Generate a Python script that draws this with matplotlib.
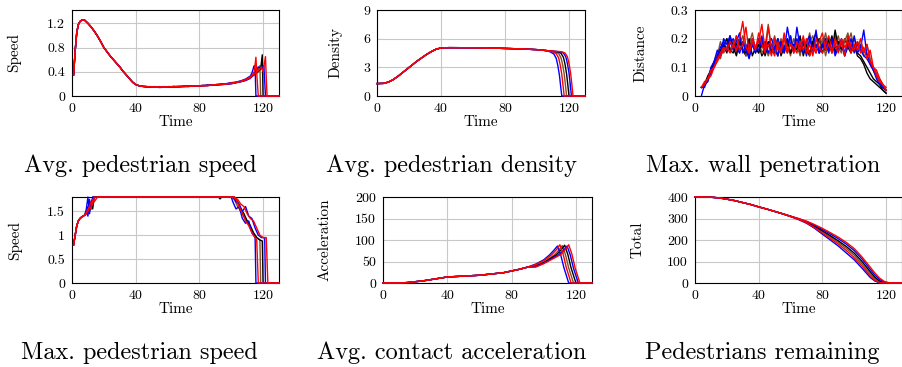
import matplotlib
matplotlib.use("Agg")
import matplotlib.pyplot as plt

plt.rcParams['font.family'] = ['cmr10', 'DejaVu Serif']
plt.rcParams['mathtext.fontset'] = 'cm'
plt.rcParams['axes.formatter.use_mathtext'] = True

# ---------------- runs (colour per simulation run) ----------------
run_colors = ['#80502a', '#000000', '#0000ff', '#0000ff', '#ff0000', '#ff0000']
wall_extra_colors = ['#80502a', '#000000']

titles = ['Avg. pedestrian speed', 'Avg. pedestrian density', 'Max. wall penetration',
          'Max. pedestrian speed', 'Avg. contact acceleration', 'Pedestrians remaining']
ylabels = ['Speed', 'Density', 'Distance', 'Speed', 'Acceleration', 'Total']
x_ticks = [0, 40, 80, 120]
x_ticklabels = ['0', '40', '80', '120']
y_ticks = [[0, 0.4, 0.8, 1.2], [0, 3, 6, 9], [0, 0.1, 0.2, 0.3],
           [0, 0.5, 1, 1.5], [0, 50, 100, 150, 200], [0, 100, 200, 300, 400]]
y_ticklabels = [['0', '0.4', '0.8', '1.2'], ['0', '3', '6', '9'], ['0', '0.1', '0.2', '0.3'],
                ['0', '0.5', '1', '1.5'], ['0', '50', '100', '150', '200'],
                ['0', '100', '200', '300', '400']]
y_max = [1.42, 9, 0.3, 1.8, 200, 400]

# ---------------- panel 1: average speed ----------------
speed_head_t = [1, 2, 3, 4, 5, 6, 7, 8, 10, 12, 14, 16, 18, 20, 22, 24, 26, 28, 30,
                32, 34, 36, 38, 40, 42, 44]
speed_head_v = [0.35, 0.75, 1.05, 1.18, 1.23, 1.25, 1.26, 1.25, 1.2, 1.14, 1.07, 0.99,
                0.9, 0.8, 0.73, 0.66, 0.6, 0.54, 0.48, 0.41, 0.35, 0.29, 0.23, 0.19,
                0.17, 0.16]
speed_mid_t = [46, 49, 52, 55, 58, 61, 64, 67, 70, 73, 76, 79, 82, 85, 88, 91, 94, 97,
               100, 103, 106, 109, 112]
speed_mid = [
    [0.16, 0.15, 0.155, 0.145, 0.15, 0.155, 0.15, 0.16, 0.155, 0.165, 0.16, 0.17, 0.165,
     0.18, 0.175, 0.19, 0.185, 0.2, 0.21, 0.225, 0.235, 0.27, 0.3],
    [0.155, 0.15, 0.145, 0.15, 0.155, 0.145, 0.155, 0.15, 0.16, 0.155, 0.165, 0.165, 0.175,
     0.17, 0.185, 0.18, 0.195, 0.195, 0.215, 0.22, 0.245, 0.26, 0.31],
    [0.15, 0.155, 0.15, 0.14, 0.145, 0.15, 0.16, 0.155, 0.16, 0.16, 0.17, 0.165, 0.17,
     0.18, 0.18, 0.19, 0.2, 0.205, 0.22, 0.23, 0.25, 0.28, 0.33],
    [0.155, 0.145, 0.15, 0.155, 0.15, 0.155, 0.145, 0.155, 0.16, 0.165, 0.16, 0.17, 0.17,
     0.175, 0.18, 0.185, 0.19, 0.195, 0.2, 0.22, 0.235, 0.255, 0.29],
    [0.16, 0.15, 0.15, 0.15, 0.145, 0.155, 0.15, 0.16, 0.155, 0.16, 0.165, 0.165, 0.175,
     0.17, 0.18, 0.19, 0.19, 0.2, 0.215, 0.225, 0.245, 0.27, 0.32],
    [0.15, 0.155, 0.145, 0.15, 0.15, 0.15, 0.155, 0.15, 0.155, 0.16, 0.165, 0.17, 0.165,
     0.175, 0.18, 0.185, 0.195, 0.2, 0.205, 0.22, 0.24, 0.265, 0.3],
]
speed_tail_t = [
    [113, 114.5, 116, 117, 118, 118.5, 130],
    [113, 115, 117, 118.5, 119.5, 120, 130],
    [113, 114, 114.5, 115, 115.5, 130],
    [113, 115, 117, 119, 120.5, 121.5, 130],
    [113, 114.5, 115.5, 116.2, 117, 130],
    [113, 115, 117, 119, 120, 121.5, 122, 122.5, 130],
]
speed_tail_v = [
    [0.32, 0.38, 0.42, 0.45, 0.5, 0, 0],
    [0.32, 0.36, 0.4, 0.45, 0.68, 0, 0],
    [0.38, 0.47, 0.5, 0.45, 0, 0],
    [0.33, 0.4, 0.48, 0.45, 0.5, 0, 0],
    [0.34, 0.4, 0.64, 0.3, 0, 0],
    [0.33, 0.37, 0.42, 0.48, 0.4, 0.65, 0.3, 0, 0],
]

# ---------------- panel 2: average density ----------------
density_head_t = [0, 4, 7, 10, 13, 16, 19, 22, 25, 28, 31, 34, 37, 40, 45, 60, 75, 90, 100, 106]
density_head_v = [1.3, 1.32, 1.45, 1.7, 2.05, 2.45, 2.85, 3.25, 3.65, 4.0, 4.35, 4.65, 4.9,
                  5.03, 5.06, 5.05, 5.0, 4.93, 4.85, 4.75]
density_tail_t = [
    [111.5, 113.5, 115, 116, 117, 117.8, 118.5, 130],
    [113, 115, 116.5, 117.5, 118.5, 119.3, 120, 130],
    [108.5, 110.5, 112, 113, 114, 114.8, 115.5, 130],
    [114.5, 116.5, 118, 119, 120, 120.8, 121.5, 130],
    [110, 112, 113.5, 114.5, 115.5, 116.3, 117, 130],
    [115.5, 117.5, 119, 120, 121, 121.8, 122.5, 130],
]
density_tail_v = [
    [4.6, 4.45, 4.0, 3.3, 2.3, 1.1, 0, 0],
    [4.62, 4.47, 4.05, 3.35, 2.3, 1.1, 0, 0],
    [4.6, 4.4, 3.95, 3.2, 2.2, 1.0, 0, 0],
    [4.62, 4.5, 4.1, 3.4, 2.4, 1.2, 0, 0],
    [4.62, 4.42, 4.0, 3.25, 2.25, 1.05, 0, 0],
    [4.63, 4.5, 4.1, 3.4, 2.4, 1.2, 0, 0],
]

# ---------------- panel 3: max wall penetration ----------------
wall_t = list(range(4, 122, 2))
wall_extra_runs = [
    [0.03, 0.04, 0.05, 0.08, 0.12, 0.15, 0.13, 0.18, 0.2, 0.16,
     0.19, 0.15, 0.18, 0.21, 0.16, 0.14, 0.19, 0.17, 0.15, 0.2,
     0.18, 0.14, 0.17, 0.21, 0.16, 0.19, 0.15, 0.18, 0.14, 0.2,
     0.17, 0.15, 0.2, 0.16, 0.19, 0.21, 0.15, 0.2, 0.17, 0.22,
     0.16, 0.2, 0.18, 0.21, 0.16, 0.19, 0.22, 0.17, 0.2, 0.16,
     0.18, 0.14, 0.15, 0.11, 0.09, 0.07, 0.05, 0.03, 0.02],
    [0.03, 0.04, 0.06, 0.09, 0.1, 0.13, 0.15, 0.17, 0.2, 0.16,
     0.15, 0.18, 0.2, 0.16, 0.14, 0.17, 0.19, 0.15, 0.18, 0.14,
     0.16, 0.19, 0.15, 0.17, 0.14, 0.18, 0.16, 0.2, 0.15, 0.17,
     0.19, 0.15, 0.18, 0.16, 0.14, 0.19, 0.17, 0.2, 0.15, 0.18,
     0.17, 0.21, 0.15, 0.19, 0.16, 0.2, 0.17, 0.15, 0.18, 0.14,
     0.13, 0.11, 0.08, 0.06, 0.05, 0.04, 0.03, 0.02, 0.01],
]
wall_runs = [
    [0.03, 0.04, 0.06, 0.08, 0.11, 0.14, 0.19, 0.15, 0.17, 0.2,
     0.16, 0.21, 0.15, 0.19, 0.14, 0.18, 0.22, 0.16, 0.2, 0.15,
     0.17, 0.25, 0.16, 0.19, 0.14, 0.2, 0.17, 0.15, 0.21, 0.16,
     0.18, 0.14, 0.19, 0.17, 0.22, 0.15, 0.18, 0.16, 0.2, 0.14,
     0.19, 0.16, 0.21, 0.17, 0.15, 0.2, 0.18, 0.22, 0.16, 0.19,
     0.17, 0.15, 0.18, 0.13, 0.1, 0.08, 0.06, 0.04, 0.02],
    [0.03, 0.04, 0.07, 0.09, 0.12, 0.13, 0.16, 0.18, 0.15, 0.21,
     0.17, 0.14, 0.19, 0.16, 0.15, 0.2, 0.14, 0.17, 0.15, 0.19,
     0.14, 0.18, 0.16, 0.15, 0.2, 0.14, 0.17, 0.19, 0.15, 0.18,
     0.16, 0.21, 0.14, 0.18, 0.15, 0.19, 0.22, 0.15, 0.18, 0.16,
     0.2, 0.15, 0.23, 0.17, 0.19, 0.14, 0.2, 0.16, 0.18, 0.15,
     0.14, 0.12, 0.1, 0.08, 0.06, 0.05, 0.04, 0.02, 0.01],
    [0.0, 0.04, 0.05, 0.1, 0.12, 0.16, 0.14, 0.2, 0.18, 0.21,
     0.16, 0.19, 0.22, 0.15, 0.18, 0.14, 0.2, 0.17, 0.16, 0.21,
     0.15, 0.18, 0.2, 0.17, 0.14, 0.19, 0.16, 0.18, 0.21, 0.15,
     0.24, 0.17, 0.19, 0.14, 0.2, 0.16, 0.23, 0.15, 0.18, 0.2,
     0.16, 0.19, 0.14, 0.17, 0.2, 0.15, 0.18, 0.16, 0.21, 0.15,
     0.17, 0.23, 0.14, 0.12, 0.09, 0.06, 0.04, 0.03, 0.02],
    [0.03, 0.03, 0.06, 0.08, 0.11, 0.14, 0.17, 0.19, 0.16, 0.18,
     0.2, 0.17, 0.15, 0.19, 0.16, 0.13, 0.18, 0.15, 0.2, 0.17,
     0.19, 0.15, 0.18, 0.16, 0.2, 0.17, 0.15, 0.24, 0.18, 0.16,
     0.2, 0.17, 0.15, 0.19, 0.21, 0.16, 0.18, 0.15, 0.17, 0.19,
     0.15, 0.2, 0.17, 0.16, 0.19, 0.14, 0.17, 0.2, 0.15, 0.18,
     0.16, 0.14, 0.13, 0.11, 0.09, 0.07, 0.05, 0.03, 0.02],
    [0.03, 0.04, 0.06, 0.07, 0.1, 0.12, 0.14, 0.16, 0.17, 0.15,
     0.18, 0.16, 0.2, 0.26, 0.17, 0.15, 0.19, 0.16, 0.22, 0.18,
     0.15, 0.24, 0.17, 0.14, 0.19, 0.16, 0.2, 0.15, 0.18, 0.17,
     0.15, 0.19, 0.16, 0.2, 0.14, 0.17, 0.15, 0.19, 0.22, 0.16,
     0.18, 0.15, 0.2, 0.17, 0.19, 0.14, 0.21, 0.17, 0.16, 0.19,
     0.15, 0.17, 0.13, 0.16, 0.1, 0.09, 0.06, 0.04, 0.03],
    [0.03, 0.05, 0.06, 0.09, 0.1, 0.13, 0.15, 0.17, 0.16, 0.19,
     0.17, 0.21, 0.16, 0.18, 0.24, 0.15, 0.2, 0.17, 0.19, 0.25,
     0.16, 0.18, 0.14, 0.2, 0.17, 0.15, 0.22, 0.16, 0.18, 0.15,
     0.19, 0.16, 0.21, 0.15, 0.18, 0.14, 0.2, 0.17, 0.15, 0.18,
     0.21, 0.16, 0.18, 0.15, 0.2, 0.17, 0.19, 0.15, 0.18, 0.16,
     0.2, 0.15, 0.18, 0.12, 0.1, 0.07, 0.05, 0.04, 0.02],
]

# ---------------- panel 4: max speed ----------------
maxspeed_head_t = [1, 2, 3, 4, 5, 6, 7]
maxspeed_head_v = [0.8, 1.0, 1.2, 1.3, 1.35, 1.38, 1.4]
maxspeed_t = [
    [8, 9, 10, 11, 12, 13, 14, 15, 20, 60, 100, 102, 104, 106, 108, 110, 112, 114, 116, 118, 118.5, 130],
    [8, 9, 10, 11, 12, 13, 14, 15, 20, 60, 92, 93, 94, 100, 102, 104, 106, 108, 110, 112, 114, 116, 118, 119.5, 120, 130],
    [8, 9, 10, 11, 12, 14, 16, 20, 60, 100, 101, 103, 105, 107, 109, 111, 113, 115, 115.5, 130],
    [8, 9, 10, 11, 12, 13, 15, 20, 60, 101, 103, 105, 107, 109, 111, 113, 115, 117, 119, 121, 121.5, 130],
    [8, 9, 10, 11, 12, 13, 14, 16, 20, 60, 101, 103, 105, 107, 109, 111, 113, 115, 116, 117, 130],
    [8, 9, 10, 11, 12, 13, 14, 16, 20, 60, 102, 104, 106, 108, 110, 112, 114, 116, 118, 120, 122, 123, 130],
]
maxspeed_v = [
    [1.42, 1.5, 1.45, 1.7, 1.6, 1.8, 1.8, 1.8, 1.8, 1.8, 1.8, 1.75, 1.6, 1.5, 1.4, 1.3, 1.15, 1.05, 0.95, 0.9, 0, 0],
    [1.42, 1.45, 1.6, 1.5, 1.65, 1.55, 1.8, 1.8, 1.8, 1.8, 1.8, 1.76, 1.8, 1.8, 1.8, 1.7, 1.55, 1.45, 1.3, 1.2, 1.05, 0.95, 0.9, 0.88, 0, 0],
    [1.42, 1.55, 1.8, 1.45, 1.7, 1.8, 1.8, 1.8, 1.8, 1.8, 1.7, 1.55, 1.6, 1.35, 1.25, 1.3, 1.05, 0.95, 0, 0],
    [1.42, 1.5, 1.4, 1.75, 1.55, 1.8, 1.8, 1.8, 1.8, 1.8, 1.7, 1.65, 1.5, 1.6, 1.4, 1.35, 1.15, 1.0, 0.95, 0.95, 0, 0],
    [1.42, 1.45, 1.5, 1.6, 1.55, 1.75, 1.7, 1.8, 1.8, 1.8, 1.8, 1.75, 1.6, 1.45, 1.3, 1.2, 1.05, 0.95, 0.9, 0, 0],
    [1.42, 1.48, 1.55, 1.6, 1.7, 1.65, 1.8, 1.8, 1.8, 1.8, 1.8, 1.75, 1.65, 1.6, 1.45, 1.35, 1.3, 1.15, 1.0, 0.95, 0.95, 0, 0],
]

# ---------------- panel 5: contact acceleration ----------------
accel_head_t = [0, 10, 15, 20, 25, 30, 35, 40, 45, 50, 55, 60, 65, 70, 75, 80, 85, 90]
accel_head_v = [0, 0, 1, 3, 5, 8, 11, 14, 15, 16, 17, 18, 20, 22, 24, 28, 32, 37]
accel_tail_t = [
    [95, 100, 106.5, 109.5, 111.5, 113.5, 115.5, 118.5, 130],
    [95, 100, 108, 111, 113, 115, 117, 120, 130],
    [95, 100, 103.5, 106.5, 108.5, 110.5, 112.5, 115.5, 130],
    [95, 100, 109.5, 112.5, 114.5, 116.5, 118.5, 121.5, 130],
    [95, 100, 105, 108, 110, 112, 114, 117, 130],
    [95, 100, 110.5, 113.5, 115.5, 117.5, 119.5, 122.5, 130],
]
accel_tail_v = [
    [41, 49, 65, 77, 87, 66, 35, 0, 0],
    [39, 47, 66, 78, 88, 66, 35, 0, 0],
    [44, 54, 65, 77, 86, 66, 36, 0, 0],
    [38, 46, 66, 77, 86, 65, 34, 0, 0],
    [43, 52, 66, 78, 89, 68, 36, 0, 0],
    [37, 45, 66, 78, 89, 67, 35, 0, 0],
]

# ---------------- panel 6: pedestrians remaining ----------------
remain_head_t = [0, 5, 10, 15, 20, 25, 30, 35, 40, 45, 50, 55]
remain_head_v = [400, 400, 399, 396, 390, 383, 374, 365, 354, 344, 333, 322]
remain_t = [60, 65, 70, 75, 80, 85, 90, 95, 100, 105, 110, 113, 116, 119, 122, 125, 130]
remain_runs = [
    [310, 297, 282, 262, 238, 214, 189, 161, 129, 88, 43, 20, 5, 0, 0, 0, 0],
    [310, 298, 284, 265, 243, 220, 196, 170, 139, 99, 53, 27, 9, 1, 0, 0, 0],
    [309, 295, 278, 255, 227, 200, 172, 140, 108, 68, 26, 9, 1, 0, 0, 0, 0],
    [311, 299, 286, 269, 249, 228, 206, 181, 151, 111, 64, 37, 16, 4, 0, 0, 0],
    [309, 296, 280, 258, 232, 207, 181, 151, 118, 78, 34, 13, 2, 0, 0, 0, 0],
    [311, 300, 288, 272, 254, 234, 213, 189, 160, 120, 74, 46, 22, 7, 1, 0, 0],
]

# ---------------- figure ----------------
W, H = 903, 367
fig = plt.figure(figsize=(W / 100, H / 100), dpi=100)

# axes boxes in pixels: left, top, right, bottom
boxes = [(72, 10, 279, 96), (377, 10, 585, 96), (695, 10, 902, 96),
         (72, 197, 279, 283), (383, 197, 592, 283), (695, 197, 902, 283)]
ylabel_right = [21, 342, 647, 22, 332, 645]
title_pos = [(140, 172), (452, 172), (763, 172), (139, 359), (452, 359), (762, 359)]

axes = []
for i, (l, t, r, b) in enumerate(boxes):
    ax = fig.add_axes([l / W, 1 - b / H, (r - l) / W, (b - t) / H])
    axes.append(ax)
    ax.set_xlim(0, 130)
    ax.set_ylim(0, y_max[i])
    ax.set_xticks(x_ticks, x_ticklabels)
    ax.set_yticks(y_ticks[i], y_ticklabels[i])
    ax.grid(True, color='#c8c8c8', linewidth=0.8)
    ax.set_axisbelow(True)
    ax.tick_params(length=0, labelsize=10, pad=5)
    for s in ax.spines.values():
        s.set_linewidth(0.8)
        s.set_color('black')
        s.set_zorder(1)
    ax.set_xlabel('Time', fontsize=11)
    ax.xaxis.set_label_coords(0.5, -0.23)
    ax.set_ylabel(ylabels[i], fontsize=11)
    ax.yaxis.set_label_coords((ylabel_right[i] - l) / (r - l), 0.5)
    fig.text(title_pos[i][0] / W, 1 - title_pos[i][1] / H, titles[i],
             fontsize=17.5, ha='center', va='baseline')

LW = 1.0
for k, c in enumerate(wall_extra_colors):
    axes[2].plot(wall_t, wall_extra_runs[k], color=c, lw=LW, clip_on=False)

for k, c in enumerate(run_colors):
    axes[0].plot(speed_head_t + speed_mid_t + speed_tail_t[k],
                 speed_head_v + speed_mid[k] + speed_tail_v[k],
                 color=c, lw=LW, clip_on=False)
    axes[1].plot(density_head_t + density_tail_t[k],
                 density_head_v + density_tail_v[k], color=c, lw=LW, clip_on=False)
    axes[2].plot(wall_t, wall_runs[k], color=c, lw=LW, clip_on=False)
    axes[3].plot(maxspeed_head_t + maxspeed_t[k], maxspeed_head_v + maxspeed_v[k],
                 color=c, lw=LW, clip_on=False)
    axes[4].plot(accel_head_t + accel_tail_t[k], accel_head_v + accel_tail_v[k],
                 color=c, lw=LW, clip_on=False)
    axes[5].plot(remain_head_t + remain_t, remain_head_v + remain_runs[k],
                 color=c, lw=LW, clip_on=False)

fig.savefig('out.png', dpi=100)
